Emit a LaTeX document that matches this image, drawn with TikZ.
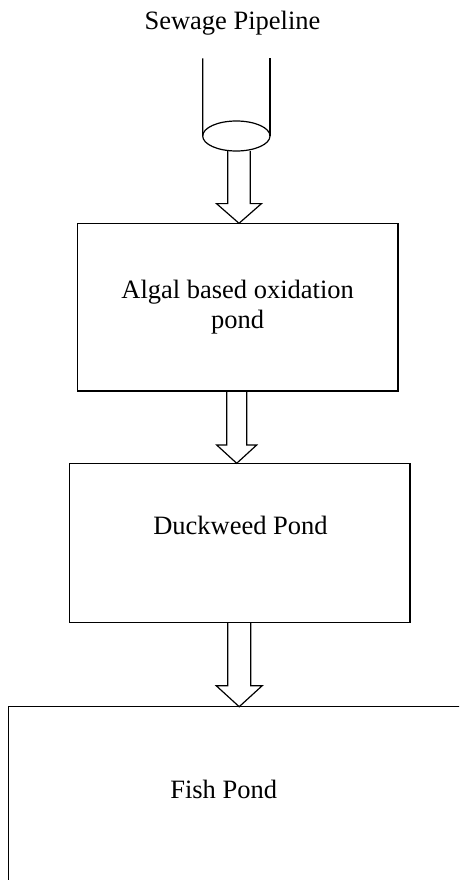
\documentclass[tikz,border=0pt]{standalone}
\usepackage{fontspec}
\setmainfont{Liberation Serif}
\usetikzlibrary{shapes.geometric,calc}

\tikzset{
  stroke/.style={line width=1.2pt},
  pondbox/.style={draw, rectangle, stroke, outer sep=0pt, inner sep=0pt},
  pipemouth/.style={draw, ellipse, stroke, outer sep=0pt, inner sep=0pt},
  flow/.style={draw, stroke, line join=miter},
  lbl/.style={font=\fontsize{26.5}{30}\selectfont, inner sep=0pt},
}

% hollow block arrow: #1 start anchor, #2 tip anchor, #3 axis x,
% #4 half shaft width, #5 half head width, #6 head length
\newcommand\hollowarrow[6]{%
  \draw[flow] let \p1=(#1), \p2=(#2) in
    (#3pt-#4pt,\y1) -- (#3pt-#4pt,\y2+#6pt) -- (#3pt-#5pt,\y2+#6pt)
    -- (#3pt,\y2) -- (#3pt+#5pt,\y2+#6pt) -- (#3pt+#4pt,\y2+#6pt)
    -- (#3pt+#4pt,\y1);}

\begin{document}
\begin{tikzpicture}[x=1pt, y=-1pt]
  \useasboundingbox (0,0) rectangle (459,880);
  \clip (0,0) rectangle (459,880);

  % pipeline
  \node[lbl, anchor=base] (title) at (232.5,30) {Sewage Pipeline};
  \node[pipemouth, minimum width=67.3pt, minimum height=30pt] (pipe) at (236.35,136) {};
  \coordinate (pipeL) at (202.7,58.3);
  \coordinate (pipeR) at (270,58.3);
  \draw[stroke] (pipeL) -- (pipe.west);
  \draw[stroke] (pipeR) -- (pipe.east);

  % ponds
  \node[pondbox, minimum width=320.7pt, minimum height=167.7pt, align=center,
        font=\fontsize{26.5}{30}\selectfont] (algal) at (237.65,307.15)
        {Algal based oxidation\\pond};
  \node[pondbox, minimum width=340.7pt, minimum height=159.4pt] (duck) at (239.65,543) {};
  \node[lbl, anchor=base] (duckText) at (240.5,534) {Duckweed Pond};
  \node[pondbox, minimum width=470pt, minimum height=200pt] (fish) at (243.3,806.7) {};
  \node[lbl, anchor=base] (fishText) at (223.7,798.3) {Fish Pond};

  % flow arrows
  \hollowarrow{pipe.south}{algal.north}{239}{11.2}{22.5}{19.7}
  \hollowarrow{algal.south}{duck.north}{236.7}{10}{20}{18.3}
  \hollowarrow{duck.south}{fish.north}{239.2}{11.5}{23}{21}
\end{tikzpicture}
\end{document}
